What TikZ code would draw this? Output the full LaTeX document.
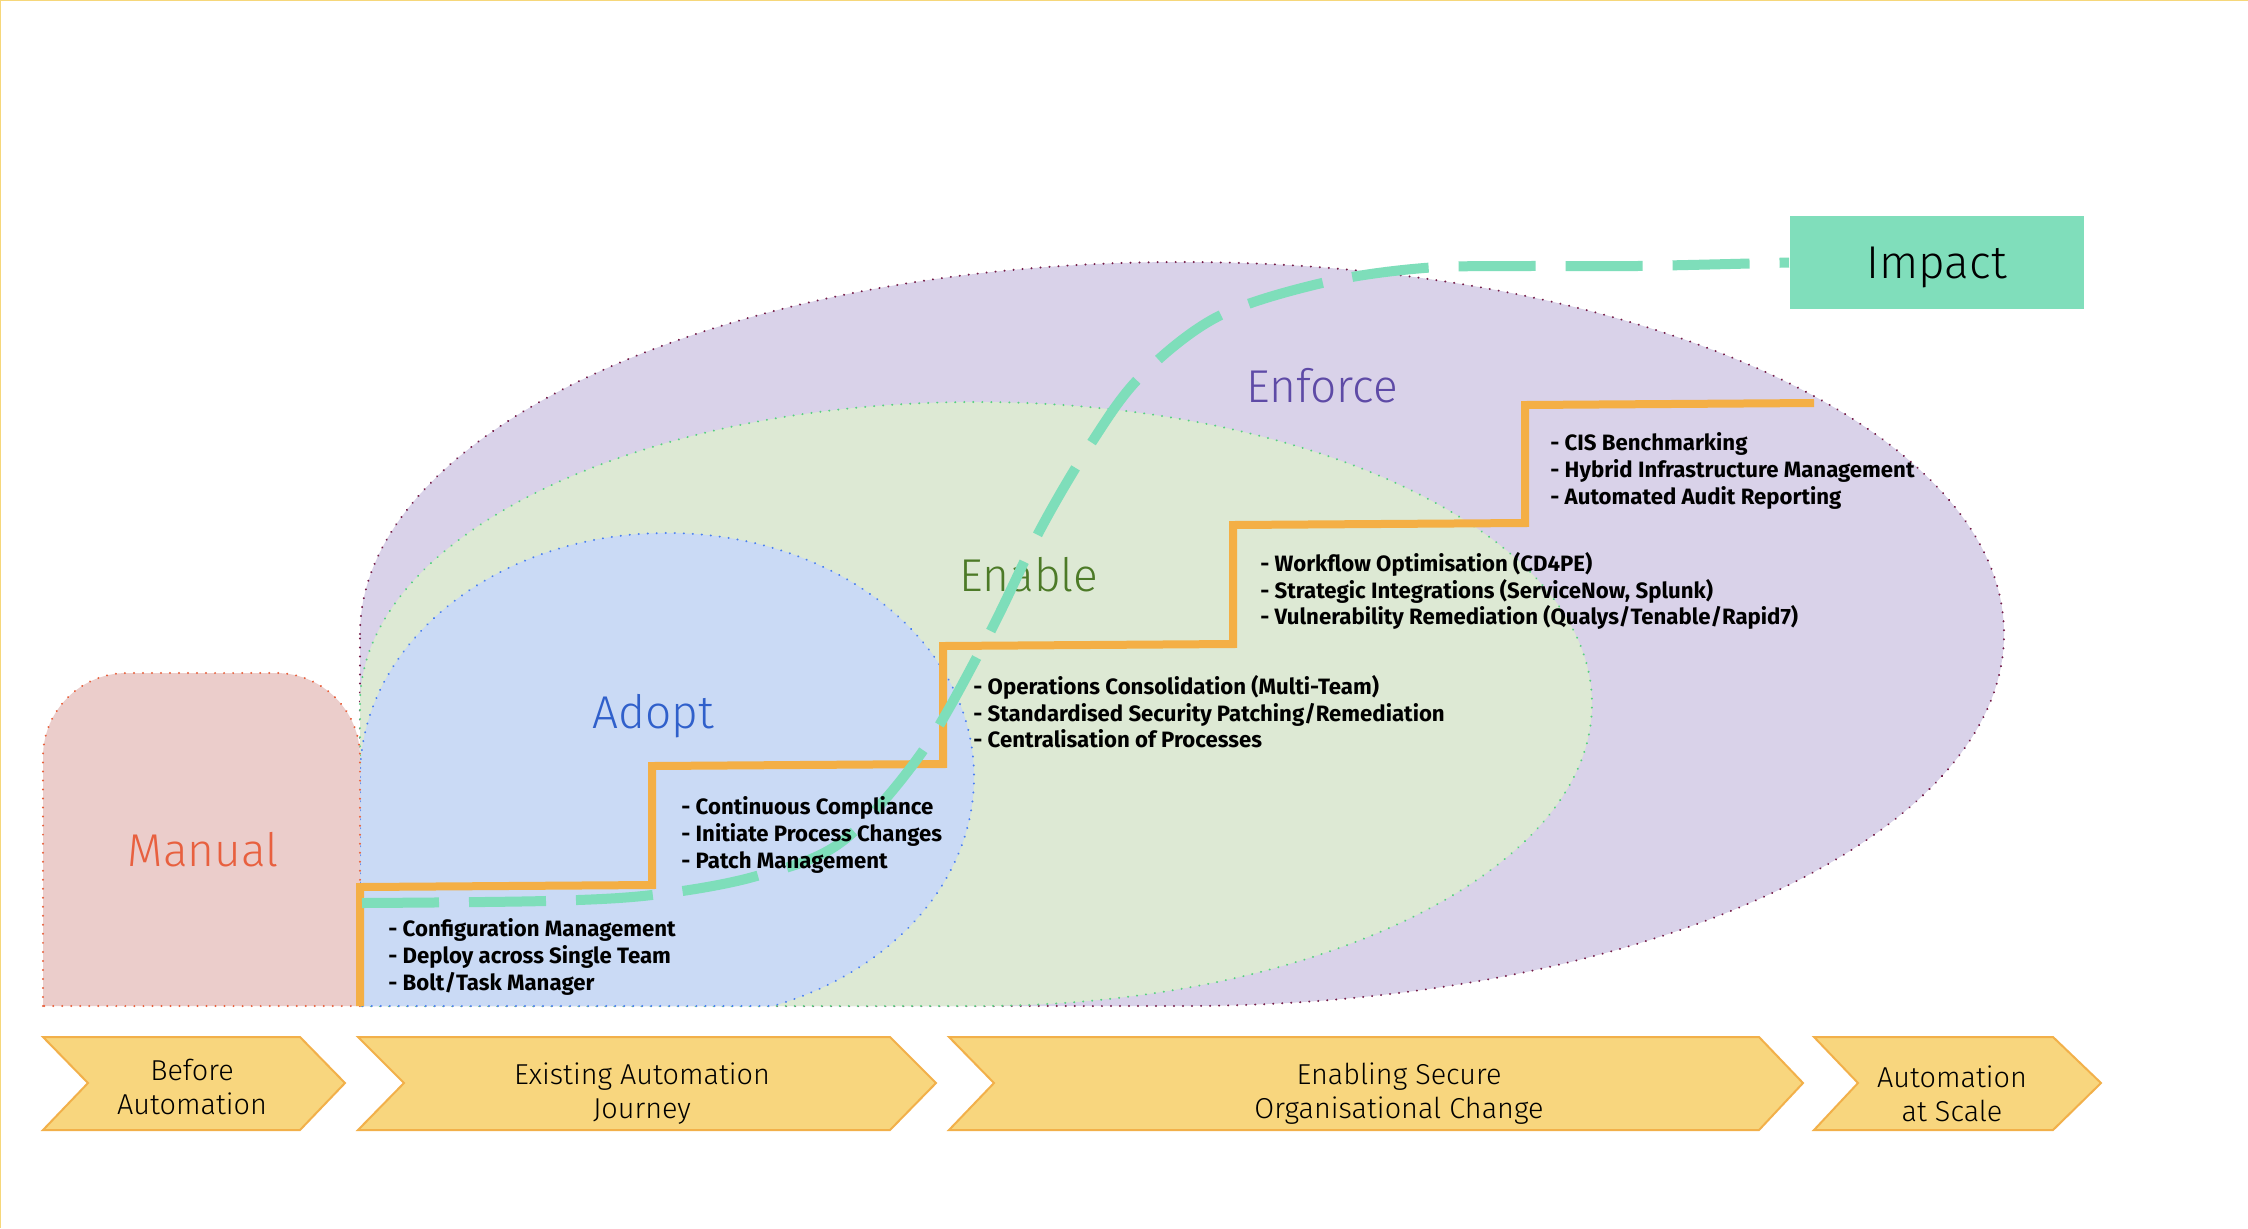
\documentclass[tikz,border=0pt]{standalone}
\usepackage{fontspec}
\setmainfont{Fira Sans}
\newfontfamily\lightfont{Fira Sans Light}
\definecolor{purplefill}{HTML}{D9D2E9}
\definecolor{purpleline}{HTML}{741B47}
\definecolor{greenfill}{HTML}{DDE9D4}
\definecolor{greenline}{HTML}{57D080}
\definecolor{bluefill}{HTML}{CADAF5}
\definecolor{blueline}{HTML}{4A7FF0}
\definecolor{manualfill}{HTML}{EBCDCB}
\definecolor{manualline}{HTML}{E8603C}
\definecolor{manualtext}{HTML}{E8603F}
\definecolor{adopttext}{HTML}{3060CB}
\definecolor{enabletext}{HTML}{4C7A27}
\definecolor{enforcetext}{HTML}{5E4AA6}
\definecolor{impactfill}{HTML}{80DEBB}
\definecolor{curvegreen}{HTML}{7EDEBA}
\definecolor{stairorange}{HTML}{F4AF45}
\definecolor{chevfill}{HTML}{F8D67E}
\definecolor{chevline}{HTML}{F2B04A}
\definecolor{framey}{HTML}{F6D77A}
\begin{document}
\begin{tikzpicture}[x=0.5pt,y=-0.5pt,
  dotborder/.style={line width=1.1pt, dash pattern=on 0.01pt off 4.5pt, line cap=round},
  regionlabel/.style={font=\lightfont\fontsize{23}{27}\selectfont, inner sep=0pt},
  listtext/.style={font=\bfseries\fontsize{11.1}{13.3}\selectfont, align=left, anchor=west, inner sep=0pt},
  chev/.style={fill=chevfill, draw=chevline, line width=1pt, line join=miter},
  chevtext/.style={font=\lightfont\fontsize{14.4}{17}\selectfont, align=center, inner sep=0pt},
  stair/.style={draw=stairorange, line width=4pt},
  flowcurve/.style={draw=curvegreen, line width=5pt, dash pattern=on 38.5pt off 15pt}]
\useasboundingbox (0,0) rectangle (2248,1228);
\fill[white] (0,0) rectangle (2248,1228);
\draw[framey, line width=1pt] (0,1228) -- (0,0) -- (2248,0);

% Enforce region
\path[fill=purplefill, draw=purpleline, dotborder]
  (360,634) arc[start angle=180, end angle=-90, x radius=411pt, y radius=186pt]
  -- (360,1006) -- cycle;
% Enable region
\path[fill=greenfill, draw=greenline, dotborder]
  (360,704) arc[start angle=180, end angle=-90, x radius=308pt, y radius=151pt]
  -- (360,1006) -- cycle;
% Adopt region
\path[fill=bluefill, draw=blueline, dotborder]
  (360,777) arc[start angle=180, end angle=-69.8, x radius=153.5pt, y radius=122pt]
  -- (360,1006) -- cycle;
% Manual region
\path[fill=manualfill, draw=manualline, dotborder]
  (43,1006) -- (43,757) arc[start angle=180, end angle=90, radius=42pt]
  -- (276,673) arc[start angle=90, end angle=0, radius=42pt]
  -- (360,1006) -- cycle;

% region labels
\node[regionlabel, text=manualtext] (manual) at (203,850) {Manual};
\node[regionlabel, text=adopttext] (adopt) at (653,716) {Adopt};
\node[regionlabel, text=enabletext] (enable) at (1029,575) {Enable};
\node[regionlabel, text=enforcetext] (enforce) at (1322,386) {Enforce};

% stairs
\draw[stair] (360,1006) -- (360,887) -- (652,885) -- (652,766) -- (943,764)
  -- (943,646) -- (1233,644) -- (1233,525) -- (1525,523) -- (1525,405) -- (1814,403);

% impact
\node[fill=impactfill, minimum width=147pt, minimum height=46.5pt, inner sep=0pt, text depth=0pt,
  font=\lightfont\fontsize{23}{27}\selectfont] (impact) at (1936.5,262.5) {Impact};

\draw[flowcurve] plot[smooth, tension=0.55] coordinates {(362,903) (545,901) (652,895) (753,877)
  (840,843) (920,755) (987,638) (1040,530) (1090,445) (1140,377) (1217,317) (1322,283)
  (1424,268) (1530,266) (1637,266) (impact.west)};

% lists
\node[listtext] (l1) at (388,957) {- Configuration Management\\- Deploy across Single Team\\- Bolt/Task Manager};
\node[listtext] (l2) at (681,835) {- Continuous Compliance\\- Initiate Process Changes\\- Patch Management};
\node[listtext] (l3) at (973,712) {- Operations Consolidation (Multi-Team)\\- Standardised Security Patching/Remediation\\- Centralisation of Processes};
\node[listtext] (l4) at (1260,591) {- Workflow Optimisation (CD4PE)\\- Strategic Integrations (ServiceNow, Splunk)\\- Vulnerability Remediation (Qualys/Tenable/Rapid7)};
\node[listtext] (l5) at (1550,471) {- CIS Benchmarking\\- Hybrid Infrastructure Management\\- Automated Audit Reporting};

% chevrons
\path[chev] (43,1037) -- (300,1037) -- (345,1083) -- (300,1130) -- (43,1130) -- (88,1083) -- cycle;
\path[chev] (358,1037) -- (890,1037) -- (936,1083) -- (890,1130) -- (358,1130) -- (404,1083) -- cycle;
\path[chev] (949,1037) -- (1759,1037) -- (1803,1083) -- (1759,1130) -- (949,1130) -- (994,1083) -- cycle;
\path[chev] (1814,1037) -- (2053,1037) -- (2101,1083) -- (2053,1130) -- (1814,1130) -- (1858,1083) -- cycle;
\node[chevtext] (c1) at (192,1087) {Before\\Automation};
\node[chevtext] (c2) at (642,1094) {Existing Automation\\Journey};
\node[chevtext] (c3) at (1399,1094) {Enabling Secure\\Organisational Change};
\node[chevtext] (c4) at (1952,1094) {Automation\\at Scale};
\end{tikzpicture}
\end{document}
